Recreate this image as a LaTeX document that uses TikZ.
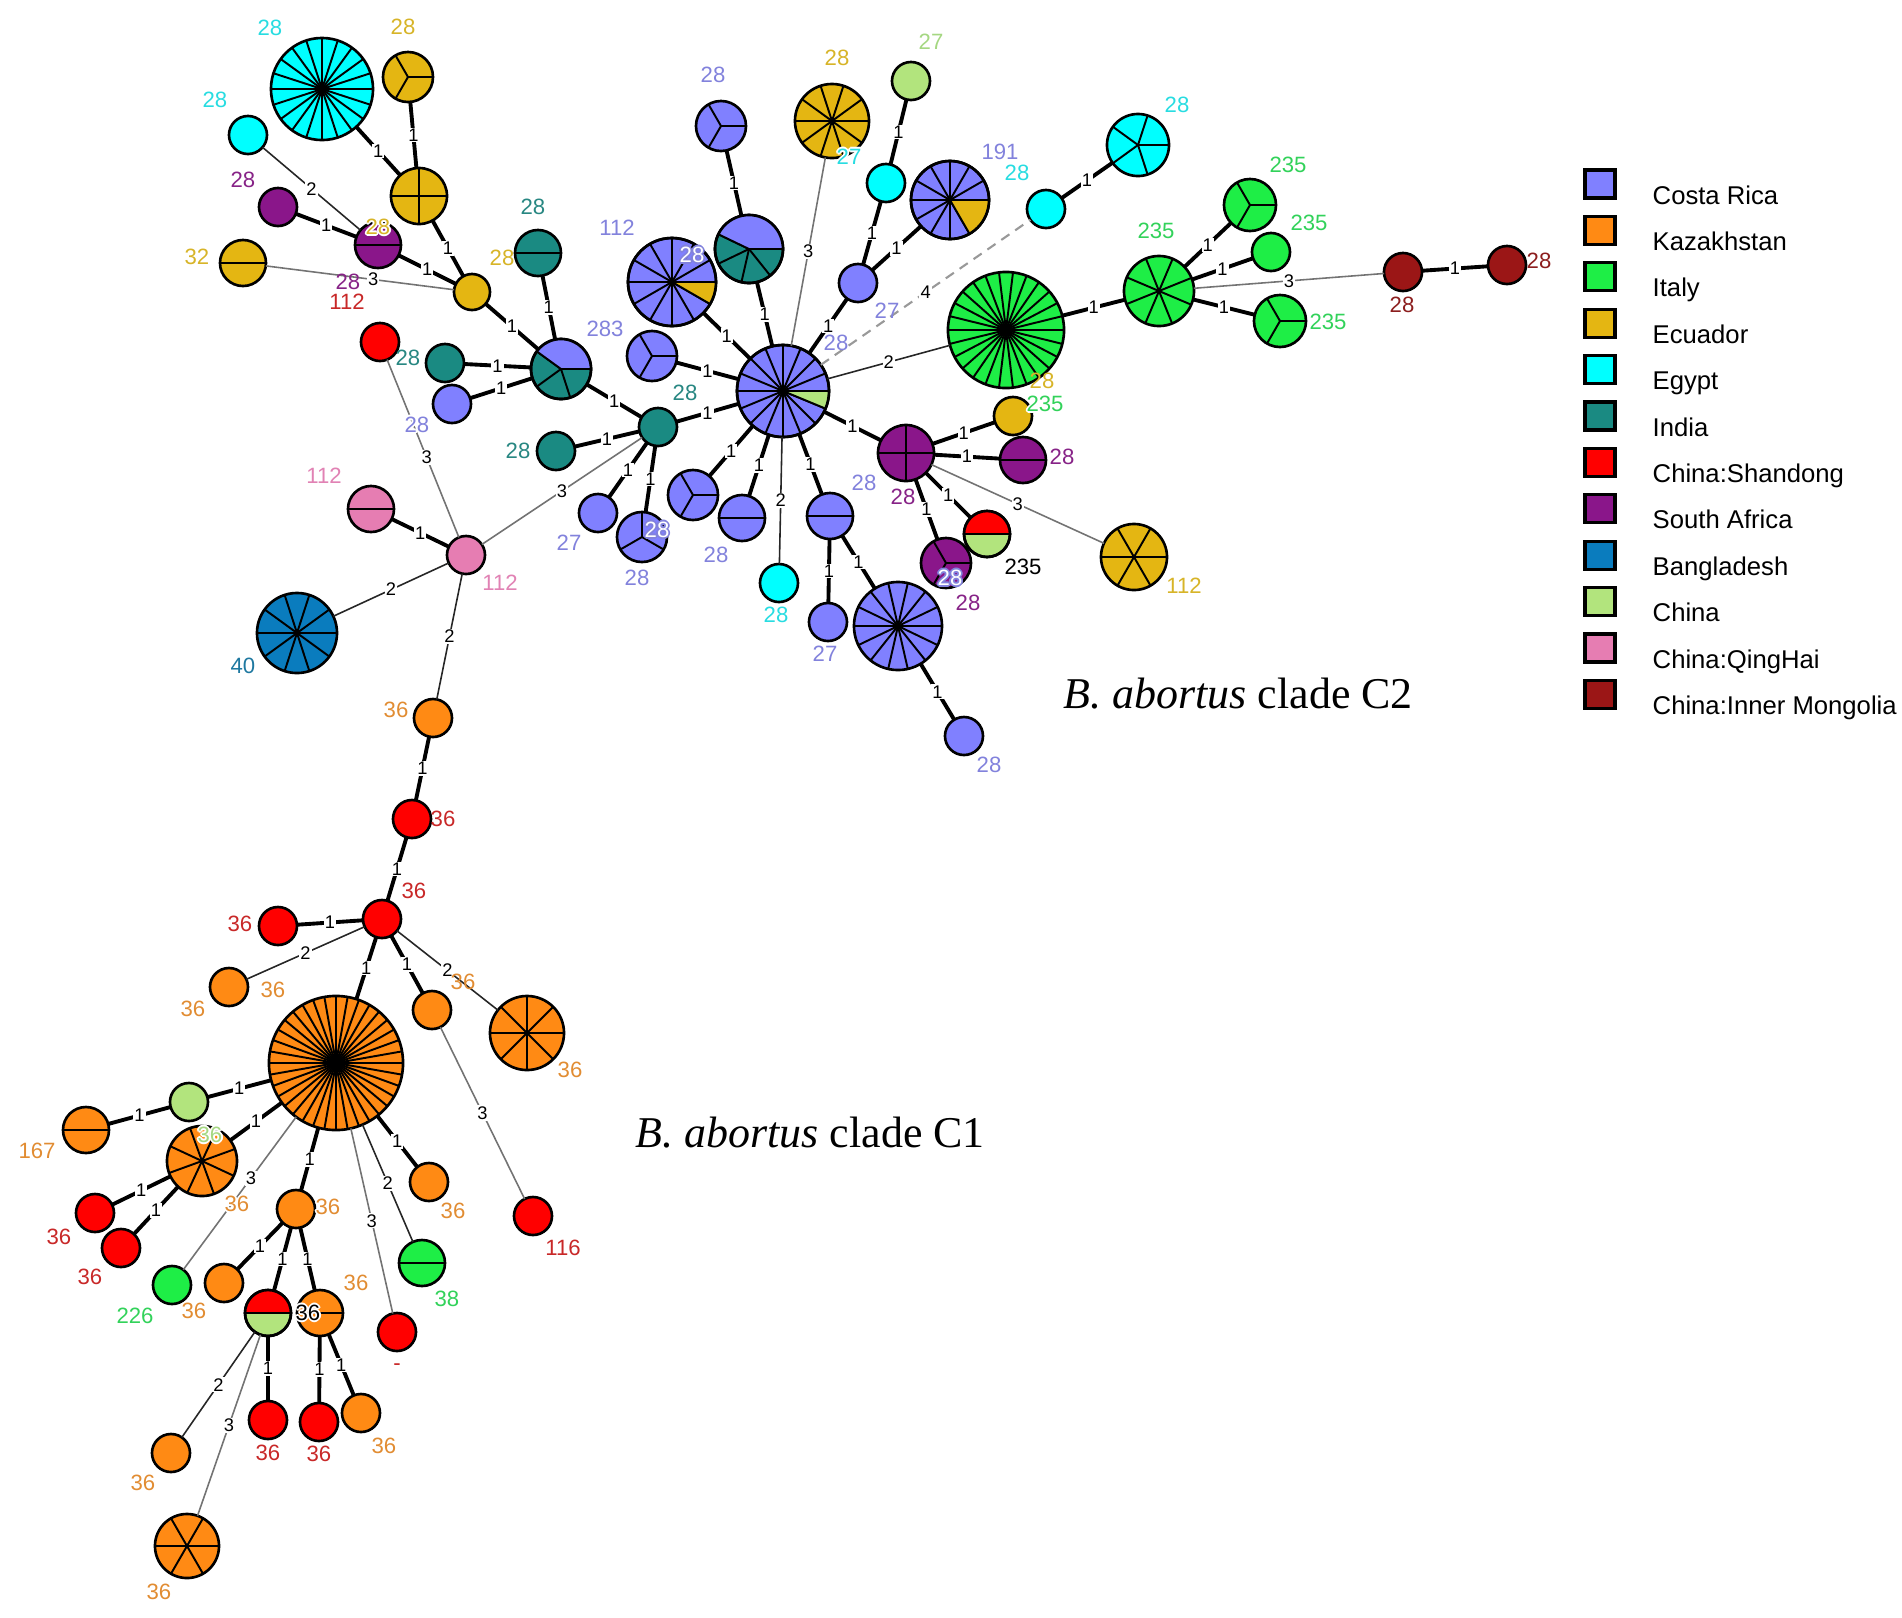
\documentclass[tikz,border=0pt]{standalone}
\usepackage{fontspec}
\setmainfont{Liberation Serif}
\setsansfont{Liberation Sans}
\usepackage{tikz}

\definecolor{cCR}{RGB}{128,128,255}
\definecolor{cKZ}{RGB}{255,138,20}
\definecolor{cIT}{RGB}{30,238,70}
\definecolor{cEC}{RGB}{228,182,18}
\definecolor{cEG}{RGB}{0,255,255}
\definecolor{cIN}{RGB}{26,138,130}
\definecolor{cSD}{RGB}{255,0,0}
\definecolor{cSA}{RGB}{138,22,138}
\definecolor{cBD}{RGB}{10,124,190}
\definecolor{cCN}{RGB}{178,228,125}
\definecolor{cQH}{RGB}{230,125,178}
\definecolor{cIM}{RGB}{155,22,22}
\definecolor{tCR}{RGB}{130,130,220}
\definecolor{tKZ}{RGB}{225,140,50}
\definecolor{tIT}{RGB}{50,210,90}
\definecolor{tEC}{RGB}{215,180,40}
\definecolor{tEG}{RGB}{40,220,225}
\definecolor{tIN}{RGB}{40,135,130}
\definecolor{tSD}{RGB}{200,40,40}
\definecolor{tSA}{RGB}{135,35,135}
\definecolor{tBD}{RGB}{30,120,160}
\definecolor{tCN}{RGB}{165,215,130}
\definecolor{tQH}{RGB}{225,130,180}
\definecolor{tIM}{RGB}{140,30,30}

\tikzset{
  hap/.style={circle, draw=black, line width=0.75pt, inner sep=0pt, outer sep=0pt},
  spoke/.style={black, line width=0.55pt},
  ring/.style={draw=black, line width=0.75pt},
  w1/.style={black, line width=1.1pt},
  w2/.style={black!85, line width=0.45pt},
  w3/.style={black!55, line width=0.45pt},
  w4/.style={black!40, line width=0.6pt, dash pattern=on 2.8pt off 2pt},
  wt/.style={fill=white, inner sep=0.3pt, text=black, font=\sffamily\fontsize{5.2}{5.5}\selectfont},
  lbl/.style={inner sep=0pt, font=\sffamily\fontsize{6.3}{7}\selectfont},
  legbox/.style={draw=black, line width=0.9pt, minimum width=0.3cm, minimum height=0.28cm, inner sep=0pt},
  legtext/.style={anchor=base west, inner sep=0pt, font=\sffamily\fontsize{7.3}{8}\selectfont},
  clade/.style={anchor=base west, inner sep=0pt, font=\rmfamily\fontsize{12.5}{14}\selectfont}
}

% name, x, y, radius, colour, sectors, start angle
\newcommand{\hap}[7]{%
  \node[hap, fill=#5, minimum size=#4*0.02cm] (#1) at (#2,#3) {};
  \ifnum#6>1
    \foreach \k in {1,...,#6} \draw[spoke] (#1.center) -- ++({#7+360*\k/#6}:#4);
  \fi}
% node, radius, from, to, colour
\newcommand{\wedgefill}[5]{%
  \fill[#5] (#1.center) -- ++(#3:#2) arc[start angle=#3, end angle=#4, radius=#2] -- cycle;
  \draw[spoke] (#1.center) -- ++(#3:#2) (#1.center) -- ++(#4:#2);
  \draw[ring] (#1.center) circle (#2);}
% text colour, halo colour, text
\newcommand{\halotxt}[3]{%
  \rlap{\color{#2}\kern0.5pt#3}%
  \rlap{\color{#2}\kern-0.5pt#3}%
  \rlap{\color{#2}\raisebox{0.5pt}{#3}}%
  \rlap{\color{#2}\raisebox{-0.5pt}{#3}}%
  \rlap{\color{#2}\kern0.35pt\raisebox{0.35pt}{#3}}%
  \rlap{\color{#2}\kern-0.35pt\raisebox{0.35pt}{#3}}%
  \rlap{\color{#2}\kern0.35pt\raisebox{-0.35pt}{#3}}%
  \rlap{\color{#2}\kern-0.35pt\raisebox{-0.35pt}{#3}}%
  {\color{#1}#3}}

\begin{document}
\begin{tikzpicture}[x=0.01cm, y=0.01cm]
\useasboundingbox (0,0) rectangle (1902,-1617);

% clade C2
\hap{cyanBig}{322}{-89}{51}{cEG}{20}{0}
\hap{ecA}{408}{-77}{25}{cEC}{3}{0}
\hap{cyanS1}{248}{-135}{19}{cEG}{1}{0}
\hap{ecB}{419}{-196}{28}{cEC}{4}{0}
\hap{purS1}{278}{-207}{19}{cSA}{1}{0}
\hap{purB}{378}{-245}{23}{cSA}{2}{0}
\hap{ecC}{243}{-263}{23}{cEC}{2}{0}
\hap{ecHub}{472}{-292}{18}{cEC}{1}{0}
\hap{indA}{538}{-253}{23}{cIN}{2}{0}
\hap{redS1}{380}{-342}{19}{cSD}{1}{0}
\hap{indS1}{445}{-363}{19}{cIN}{1}{0}
\hap{crS1}{452}{-404}{19}{cCR}{1}{0}
\hap{hub2}{561}{-369}{30}{cIN}{5}{0}
\wedgefill{hub2}{30}{0}{144}{cCR}
\hap{crC}{652}{-356}{25}{cCR}{3}{0}
\hap{tealHub}{658}{-427}{19}{cIN}{1}{0}
\hap{indS2}{556}{-451}{19}{cIN}{1}{0}
\hap{pinkB}{371}{-509}{23}{cQH}{2}{0}
\hap{pinkHub}{466}{-555}{19}{cQH}{1}{0}
\hap{bang}{297}{-633}{40}{cBD}{10}{0}
\hap{crS2}{598}{-513}{19}{cCR}{1}{0}
\hap{crD}{642}{-537}{25}{cCR}{3}{90}
\hap{crE}{693}{-495}{25}{cCR}{3}{0}
\hap{crF}{742}{-518}{23}{cCR}{2}{0}
\hap{cyanS2}{779}{-583}{19}{cEG}{1}{0}
\hap{crG}{830}{-516}{23}{cCR}{2}{0}
\hap{crS3}{828}{-622}{19}{cCR}{1}{0}
\hap{crBig}{898}{-626}{44}{cCR}{14}{0}
\hap{crS4}{964}{-736}{19}{cCR}{1}{0}
\hap{central}{783}{-391}{46}{cCR}{16}{0}
\wedgefill{central}{46}{-22.5}{0}{cCN}
\hap{crK}{672}{-282}{44}{cCR}{12}{0}
\wedgefill{crK}{44}{-30}{0}{cEC}
\hap{crH}{721}{-126}{25}{cCR}{3}{0}
\hap{crInd}{749}{-249}{34}{cIN}{7}{0}
\wedgefill{crInd}{34}{0}{154.29}{cCR}
\hap{ecD}{832}{-121}{37}{cEC}{10}{0}
\hap{lgS}{911}{-81}{19}{cCN}{1}{0}
\hap{cyanS3}{886}{-183}{19}{cEG}{1}{0}
\hap{crS5}{858}{-283}{19}{cCR}{1}{0}
\hap{cr191}{950}{-200}{39}{cCR}{12}{0}
\wedgefill{cr191}{39}{-60}{0}{cEC}
\hap{cyanS4}{1046}{-209}{19}{cEG}{1}{0}
\hap{cyan5}{1138}{-145}{31}{cEG}{5}{0}
\hap{greenBig}{1006}{-330}{58}{cIT}{26}{0}
\hap{green8}{1159}{-291}{35}{cIT}{8}{22}
\hap{greenT}{1250}{-205}{26}{cIT}{3}{0}
\hap{greenS}{1271}{-252}{19}{cIT}{1}{0}
\hap{greenB}{1280}{-321}{26}{cIT}{3}{0}
\hap{dred1}{1403}{-272}{19}{cIM}{1}{0}
\hap{dred2}{1507}{-265}{19}{cIM}{1}{0}
\hap{purX}{906}{-453}{28}{cSA}{4}{0}
\hap{ecS}{1013}{-416}{19}{cEC}{1}{0}
\hap{purC}{1023}{-460}{23}{cSA}{2}{0}
\hap{ec6}{1134}{-557}{33}{cEC}{6}{0}
\hap{redlg}{987}{-534}{23}{cCN}{2}{0}
\wedgefill{redlg}{23}{0}{180}{cSD}
\hap{pur3}{946}{-563}{25}{cSA}{3}{0}

% clade C1
\hap{orA}{433}{-718}{19}{cKZ}{1}{0}
\hap{redA}{412}{-819}{19}{cSD}{1}{0}
\hap{redHub}{382}{-919}{19}{cSD}{1}{0}
\hap{redB}{278}{-926}{19}{cSD}{1}{0}
\hap{orB}{229}{-987}{19}{cKZ}{1}{0}
\hap{orBig}{336}{-1063}{67}{cKZ}{36}{0}
\hap{orC}{432}{-1010}{19}{cKZ}{1}{0}
\hap{or8}{527}{-1033}{37}{cKZ}{8}{0}
\hap{lgB}{189}{-1102}{19}{cCN}{1}{0}
\hap{or167}{86}{-1130}{23}{cKZ}{2}{0}
\hap{or8b}{202}{-1161}{35}{cKZ}{8}{20}
\hap{redC}{95}{-1213}{19}{cSD}{1}{0}
\hap{redD}{121}{-1248}{19}{cSD}{1}{0}
\hap{green226}{172}{-1285}{19}{cIT}{1}{0}
\hap{orD}{296}{-1209}{19}{cKZ}{1}{0}
\hap{orE}{224}{-1283}{19}{cKZ}{1}{0}
\hap{redlg2}{268}{-1313}{23}{cCN}{2}{0}
\wedgefill{redlg2}{23}{0}{180}{cSD}
\hap{or2}{320}{-1313}{23}{cKZ}{2}{0}
\hap{orF}{429}{-1182}{19}{cKZ}{1}{0}
\hap{red116}{533}{-1216}{19}{cSD}{1}{0}
\hap{green38}{422}{-1263}{23}{cIT}{2}{0}
\hap{redDash}{397}{-1332}{19}{cSD}{1}{0}
\hap{orG}{171}{-1453}{19}{cKZ}{1}{0}
\hap{or6}{187}{-1546}{32}{cKZ}{6}{0}
\hap{redE}{268}{-1420}{19}{cSD}{1}{0}
\hap{redF}{319}{-1422}{19}{cSD}{1}{0}
\hap{orH}{361}{-1413}{19}{cKZ}{1}{0}

% links, clade C2
\draw[w1] (cyanBig) -- node[wt]{1} (ecB);
\draw[w1] (ecA) -- node[wt]{1} (ecB);
\draw[w1] (ecB) -- node[wt]{1} (ecHub);
\draw[w2] (cyanS1) -- node[wt]{2} (purB);
\draw[w1] (purS1) -- node[wt]{1} (purB);
\draw[w1] (purB) -- node[wt]{1} (ecHub);
\draw[w3] (ecC) -- node[wt, pos=0.57]{3} (ecHub);
\draw[w1] (ecHub) -- node[wt]{1} (hub2);
\draw[w1] (indA) -- node[wt]{1} (hub2);
\draw[w1] (indS1) -- node[wt]{1} (hub2);
\draw[w1] (crS1) -- node[wt]{1} (hub2);
\draw[w1] (hub2) -- node[wt]{1} (tealHub);
\draw[w1] (indS2) -- node[wt]{1} (tealHub);
\draw[w3] (redS1) -- node[wt, pos=0.55]{3} (pinkHub);
\draw[w1] (pinkB) -- node[wt]{1} (pinkHub);
\draw[w2] (bang) -- node[wt]{2} (pinkHub);
\draw[w2] (pinkHub) -- node[wt]{2} (orA);
\draw[w3] (pinkHub) -- node[wt]{3} (tealHub);
\draw[w1] (tealHub) -- node[wt]{1} (central);
\draw[w1] (crC) -- node[wt]{1} (central);
\draw[w1] (crS2) -- node[wt]{1} (tealHub);
\draw[w1] (crD) -- node[wt]{1} (tealHub);
\draw[w1] (crE) -- node[wt]{1} (central);
\draw[w1] (crF) -- node[wt]{1} (central);
\draw[w2] (cyanS2) -- node[wt]{2} (central);
\draw[w1] (crG) -- node[wt]{1} (central);
\draw[w1] (crG) -- node[wt]{1} (crS3);
\draw[w1] (crG) -- node[wt]{1} (crBig);
\draw[w1] (crBig) -- node[wt]{1} (crS4);
\draw[w1] (central) -- node[wt]{1} (purX);
\draw[w1] (purX) -- node[wt]{1} (ecS);
\draw[w1] (purX) -- node[wt]{1} (purC);
\draw[w3] (purX) -- node[wt]{3} (ec6);
\draw[w1] (purX) -- node[wt]{1} (redlg);
\draw[w1] (purX) -- node[wt]{1} (pur3);
\draw[w2] (central) -- node[wt]{2} (greenBig);
\draw[w4] (central) -- node[wt]{4} (cyanS4);
\draw[w1] (cyanS4) -- node[wt]{1} (cyan5);
\draw[w1] (greenBig) -- node[wt]{1} (green8);
\draw[w1] (green8) -- node[wt]{1} (greenT);
\draw[w1] (green8) -- node[wt]{1} (greenS);
\draw[w1] (green8) -- node[wt]{1} (greenB);
\draw[w3] (green8) -- node[wt]{3} (dred1);
\draw[w1] (dred1) -- node[wt]{1} (dred2);
\draw[w1] (crH) -- node[wt]{1} (crInd);
\draw[w1] (crInd) -- node[wt]{1} (central);
\draw[w1] (crK) -- node[wt]{1} (central);
\draw[w3] (ecD) -- node[wt]{3} (central);
\draw[w1] (lgS) -- node[wt]{1} (cyanS3);
\draw[w1] (cyanS3) -- node[wt]{1} (crS5);
\draw[w1] (crS5) -- node[wt]{1} (cr191);
\draw[w1] (crS5) -- node[wt]{1} (central);

% links, clade C1
\draw[w1] (orA) -- node[wt]{1} (redA);
\draw[w1] (redA) -- node[wt]{1} (redHub);
\draw[w1] (redB) -- node[wt]{1} (redHub);
\draw[w2] (redHub) -- node[wt]{2} (orB);
\draw[w1] (redHub) -- node[wt]{1} (orBig);
\draw[w1] (redHub) -- node[wt]{1} (orC);
\draw[w2] (redHub) -- node[wt]{2} (or8);
\draw[w3] (orC) -- node[wt]{3} (red116);
\draw[w1] (orBig) -- node[wt]{1} (lgB);
\draw[w1] (lgB) -- node[wt]{1} (or167);
\draw[w1] (orBig) -- node[wt]{1} (or8b);
\draw[w1] (or8b) -- node[wt]{1} (redC);
\draw[w1] (or8b) -- node[wt]{1} (redD);
\draw[w3] (orBig) -- node[wt, pos=0.4]{3} (green226);
\draw[w1] (orBig) -- node[wt]{1} (orD);
\draw[w1] (orD) -- node[wt]{1} (orE);
\draw[w1] (orD) -- node[wt]{1} (redlg2);
\draw[w1] (orD) -- node[wt]{1} (or2);
\draw[w1] (orBig) -- node[wt]{1} (orF);
\draw[w2] (orBig) -- node[wt]{2} (green38);
\draw[w3] (orBig) -- node[wt]{3} (redDash);
\draw[w2] (redlg2) -- node[wt]{2} (orG);
\draw[w3] (redlg2) -- node[wt]{3} (or6);
\draw[w1] (redlg2) -- node[wt]{1} (redE);
\draw[w1] (or2) -- node[wt]{1} (redF);
\draw[w1] (or2) -- node[wt]{1} (orH);

% labels, clade C2
\node[lbl, text=tEG] (l-cyanBig) at (270,-28) {28};
\node[lbl, text=tEC] (l-ecA) at (403,-27) {28};
\node[lbl, text=tEG] (l-cyanS1) at (215,-100) {28};
\node[lbl, text=tSA] (l-purS1) at (243,-180) {28};
\node[lbl] (l-purB) at (378,-227) {\halotxt{tEC}{white}{28}};
\node[lbl, text=tEC] (l-ecC) at (197,-257) {32};
\node[lbl, text=tSA] (l-ecHub) at (348,-282) {28};
\node[lbl, text=tSD] (l-redS1) at (347,-302) {112};
\node[lbl, text=tEC] (l-indA2) at (502,-258) {28};
\node[lbl, text=tIN] (l-indA) at (533,-207) {28};
\node[lbl, text=tIN] (l-indS1) at (408,-358) {28};
\node[lbl, text=tCR] (l-hub2) at (605,-329) {283};
\node[lbl] (l-crS1) at (417,-425) {\halotxt{tCR}{white}{28}};
\node[lbl, text=tIN] (l-tealHub) at (685,-393) {28};
\node[lbl, text=tIN] (l-indS2) at (518,-451) {28};
\node[lbl, text=tQH] (l-pinkB) at (324,-476) {112};
\node[lbl, text=tQH] (l-pinkHub) at (500,-583) {112};
\node[lbl, text=tBD] (l-bang) at (243,-666) {40};
\node[lbl, text=tCR] (l-crS2) at (569,-543) {27};
\node[lbl] (l-crD) at (657,-530) {\halotxt{white}{tCR}{28}};
\node[lbl, text=tCR] (l-crD2) at (637,-578) {28};
\node[lbl, text=tCR] (l-crF) at (716,-555) {28};
\node[lbl, text=tEG] (l-cyanS2) at (776,-615) {28};
\node[lbl, text=tCR] (l-crG) at (864,-483) {28};
\node[lbl, text=tCR] (l-crS3) at (825,-654) {27};
\node[lbl, text=tCR] (l-crS4) at (989,-765) {28};
\node[lbl, text=tCR] (l-central) at (836,-343) {28};
\node[lbl, text=tCR] (l-crK) at (617,-228) {112};
\node[lbl] (l-crK2) at (692,-255) {\halotxt{white}{tCR}{28}};
\node[lbl, text=tCR] (l-crH) at (713,-75) {28};
\node[lbl, text=tEC] (l-ecD) at (837,-58) {28};
\node[lbl] (l-ecD2) at (849,-157) {\halotxt{tEG}{white}{27}};
\node[lbl, text=tCN] (l-lgS) at (931,-42) {27};
\node[lbl, text=tCR] (l-crS5) at (887,-311) {27};
\node[lbl, text=tCR] (l-cr191) at (1000,-152) {191};
\node[lbl, text=tEG] (l-cyanS4) at (1017,-173) {28};
\node[lbl, text=tEG] (l-cyan5) at (1177,-105) {28};
\node[lbl, text=tIT] (l-green8) at (1156,-231) {235};
\node[lbl, text=tIT] (l-greenT) at (1288,-165) {235};
\node[lbl, text=tIT] (l-greenS) at (1309,-223) {235};
\node[lbl, text=tIT] (l-greenB) at (1328,-322) {235};
\node[lbl, text=tIM] (l-dred1) at (1402,-305) {28};
\node[lbl, text=tIM] (l-dred2) at (1539,-261) {28};
\node[lbl, text=tSA] (l-purX) at (903,-497) {28};
\node[lbl, text=tEC] (l-ecS) at (1042,-381) {28};
\node[lbl] (l-ecS2) at (1045,-404) {\halotxt{tIT}{white}{235}};
\node[lbl, text=tSA] (l-purC) at (1062,-457) {28};
\node[lbl, text=tEC] (l-ec6) at (1184,-586) {112};
\node[lbl, text=black] (l-redlg) at (1023,-567) {235};
\node[lbl] (l-pur3) at (950,-578) {\halotxt{white}{tCR}{28}};
\node[lbl, text=tSA] (l-pur32) at (968,-603) {28};

% labels, clade C1
\node[lbl, text=tKZ] (l-orA) at (396,-710) {36};
\node[lbl, text=tSD] (l-redA) at (443,-819) {36};
\node[lbl, text=tSD] (l-redHub) at (414,-891) {36};
\node[lbl, text=tSD] (l-redB) at (240,-924) {36};
\node[lbl, text=tKZ] (l-orB) at (273,-990) {36};
\node[lbl, text=tKZ] (l-orB2) at (193,-1009) {36};
\node[lbl, text=tKZ] (l-orC) at (463,-982) {36};
\node[lbl, text=tKZ] (l-or8) at (570,-1070) {36};
\node[lbl, text=tKZ] (l-or167) at (37,-1151) {167};
\node[lbl] (l-or8b) at (210,-1135) {\halotxt{tCN}{white}{36}};
\node[lbl, text=tSD] (l-redC) at (59,-1237) {36};
\node[lbl, text=tSD] (l-redD) at (90,-1277) {36};
\node[lbl, text=tIT] (l-green226) at (135,-1316) {226};
\node[lbl] (l-orBig) at (237,-1204) {\halotxt{tKZ}{white}{36}};
\node[lbl] (l-orD) at (328,-1207) {\halotxt{tKZ}{white}{36}};
\node[lbl, text=tKZ] (l-orE) at (194,-1311) {36};
\node[lbl] (l-or2) at (308,-1313) {\halotxt{black}{white}{36}};
\node[lbl, text=tKZ] (l-or22) at (356,-1283) {36};
\node[lbl, text=tKZ] (l-orF) at (453,-1211) {36};
\node[lbl, text=tSD] (l-red116) at (563,-1248) {116};
\node[lbl, text=tIT] (l-green38) at (447,-1299) {38};
\node[lbl, text=tSD] (l-redDash) at (397,-1367) {-};
\node[lbl, text=tKZ] (l-orG) at (143,-1483) {36};
\node[lbl, text=tKZ] (l-or6) at (159,-1592) {36};
\node[lbl, text=tSD] (l-redE) at (268,-1453) {36};
\node[lbl, text=tSD] (l-redF) at (319,-1454) {36};
\node[lbl, text=tKZ] (l-orH) at (384,-1446) {36};

% clade names
\node[clade] (cladeC2) at (1063,-708) {\textit{B. abortus} clade C2};
\node[clade] (cladeC1) at (635,-1147) {\textit{B. abortus} clade C1};

% legend
\foreach \c/\n [count=\i from 0] in {cCR/Costa Rica, cKZ/Kazakhstan, cIT/Italy,
    cEC/Ecuador, cEG/Egypt, cIN/India, cSD/China:Shandong, cSA/South Africa,
    cBD/Bangladesh, cCN/China, cQH/China:QingHai, cIM/China:Inner Mongolia}
{
  \node[legbox, fill=\c] (box\i) at (1600,{-184-46.4*\i}) {};
  \node[legtext] (leg\i) at (1652,{-204-46.4*\i}) {\n};
}
\end{tikzpicture}
\end{document}
